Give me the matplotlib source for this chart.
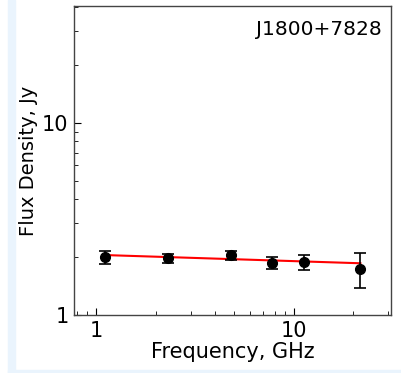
import numpy as np
from matplotlib import pyplot as plt
from matplotlib.patches import Rectangle
from matplotlib.ticker import NullFormatter, FuncFormatter

# measured spectrum (GHz, Jy)
freq = [1.1, 2.3, 4.8, 7.7, 11.2, 21.7]
flux = [2.0, 1.97, 2.04, 1.87, 1.88, 1.74]
flux_err = [0.16, 0.10, 0.10, 0.13, 0.16, 0.35]

# power-law fit  S = a * nu^b
fit_a = 2.057
fit_b = -0.033

source = "J1800+7828"

fig = plt.figure(figsize=(4.01, 3.73), dpi=100)
fig.patch.set_facecolor("white")
fig.patches.append(Rectangle((8 / 401, 0), 7 / 401, 1, transform=fig.transFigure,
                             color="#eaf4fd", zorder=-1))
fig.patches.append(Rectangle((8 / 401, 0), 393 / 401, 3 / 373, transform=fig.transFigure,
                             color="#eaf4fd", zorder=-1))

ax = fig.add_axes([74 / 401, 1 - 315 / 373, 317 / 401, 309 / 373])

nu = np.array([freq[0], freq[-1]])
ax.plot(nu, fit_a * nu ** fit_b, color="red", lw=1.5, zorder=1)
ax.errorbar(freq, flux, yerr=flux_err, fmt="o", color="black", ms=7,
            capsize=4, elinewidth=1.2, capthick=1.2, zorder=2)

ax.set_xscale("log")
ax.set_yscale("log")
ax.set_xlim(0.77, 31)
ax.set_ylim(1, 40.5)

fmt = FuncFormatter(lambda v, p: "%g" % v)
ax.xaxis.set_major_formatter(fmt)
ax.yaxis.set_major_formatter(fmt)
ax.xaxis.set_minor_formatter(NullFormatter())
ax.yaxis.set_minor_formatter(NullFormatter())

ax.tick_params(which="both", direction="in", top=False, right=False)
ax.tick_params(which="major", length=5, labelsize=15, pad=4)
ax.tick_params(which="minor", length=3)

for s in ax.spines.values():
    s.set_color("#444444")
    s.set_linewidth(1.0)

ax.set_xlabel("Frequency, GHz", fontsize=15, labelpad=1)
ax.set_ylabel("Flux Density, Jy", fontsize=14, labelpad=3)

ax.text(0.97, 0.955, source, transform=ax.transAxes, ha="right", va="top", fontsize=14.5)

fig.savefig("out.png", dpi=100)
